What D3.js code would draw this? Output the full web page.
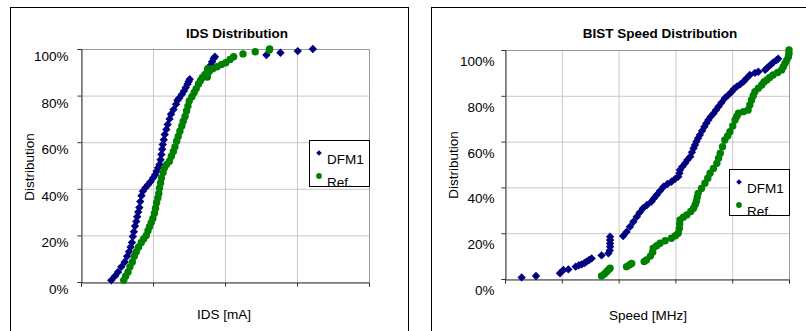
<!DOCTYPE html>
<html>
<head>
<meta charset="utf-8">
<script src="https://cdn.jsdelivr.net/npm/d3@7"></script>
<style>
  body { margin: 0; background: #fff; }
  svg { display: block; font-family: "Liberation Sans", Arial, sans-serif; }
</style>
</head>
<body>
<div id="app"></div>
<script>
// [x (grid units), distribution %]
const idsDfm1 = [
  [0.42, 0.7], [0.47, 2.5], [0.515, 4.3], [0.56, 6.5], [0.607, 8.6], [0.64, 11], [0.667, 13],
  [0.69, 15], [0.708, 17], [0.72, 19.5], [0.735, 21.6], [0.75, 24], [0.768, 26], [0.78, 28],
  [0.795, 30], [0.81, 32], [0.823, 34.5], [0.84, 37], [0.86, 39], [0.895, 40.5], [0.93, 41.7],
  [0.965, 43], [1.0, 44.6], [1.03, 46], [1.05, 47.5], [1.07, 49], [1.09, 50.4], [1.105, 52.5],
  [1.117, 54.7], [1.127, 57], [1.136, 59], [1.15, 61], [1.163, 63.3], [1.185, 65.5], [1.204, 67.6],
  [1.23, 70], [1.25, 72], [1.285, 74], [1.32, 76.3], [1.34, 78], [1.365, 79], [1.4, 80.5],
  [1.43, 82], [1.455, 83.5], [1.48, 85], [1.495, 86], [1.51, 87],
  [1.73, 88.5], [1.75, 90], [1.77, 91.5], [1.8, 93], [1.82, 94.5], [1.845, 96], [1.86, 96.7],
  [2.575, 97.4], [2.77, 98.4], [3.01, 99.1], [3.22, 100]
];
const idsRef = [
  [0.593, 0.7], [0.62, 2.5], [0.653, 4.3], [0.68, 6.5], [0.713, 8.6], [0.74, 11], [0.768, 13],
  [0.8, 15], [0.837, 17], [0.87, 18.5], [0.906, 20], [0.93, 22], [0.952, 23.7], [0.975, 25.5],
  [0.998, 27.3], [1.02, 29.5], [1.035, 31.7], [1.05, 34], [1.067, 36], [1.08, 38], [1.09, 40.3],
  [1.105, 42.5], [1.117, 44.6], [1.14, 47], [1.159, 49], [1.19, 50.5], [1.228, 51.8], [1.255, 54],
  [1.283, 56], [1.305, 58], [1.328, 60.4], [1.35, 62.5], [1.374, 64.7], [1.4, 67], [1.42, 69],
  [1.445, 71], [1.466, 73.4], [1.485, 75.5], [1.503, 77.7], [1.54, 79.5], [1.572, 81.3], [1.6, 83],
  [1.632, 85], [1.66, 86.5], [1.687, 87.8], [1.72, 89], [1.756, 90], [1.755, 88], [1.76, 91.5],
  [1.78, 90.3], [1.83, 91.5], [1.89, 92.4], [1.95, 93.3], [2.01, 94.1], [2.07, 95.5], [2.12, 96.7],
  [2.25, 97.9], [2.42, 98.8], [2.615, 99.6], [2.62, 100]
];
const bistDfm1 = [
  [0.293, 0.7], [0.546, 1.3], [0.968, 2.5], [1.027, 3.9], [1.115, 4.2], [1.244, 5.4], [1.3, 6.0],
  [1.35, 6.4], [1.4, 7.0], [1.438, 7.6], [1.48, 8.3], [1.526, 9.0], [1.7, 10.3], [1.82, 11.2],
  [1.845, 12.5], [1.85, 14.1], [1.85, 15.5], [1.85, 17], [1.85, 18.5],
  [2.08, 18.8], [2.14, 20.5], [2.2, 22.8], [2.26, 25], [2.32, 27.2], [2.37, 29], [2.43, 30.9],
  [2.5, 32.3], [2.58, 33.8], [2.62, 35.2], [2.67, 36.7], [2.73, 38.5], [2.79, 40.3], [2.86, 41.5],
  [2.93, 42.5], [2.99, 43.6], [3.05, 44.7], [3.07, 46.2], [3.08, 47.6], [3.12, 49], [3.17, 50.5],
  [3.21, 52], [3.26, 53.4], [3.29, 55.3], [3.32, 57.1], [3.345, 58.5], [3.37, 60], [3.4, 61.5],
  [3.43, 62.9], [3.47, 64.7], [3.51, 66.5], [3.545, 68], [3.58, 69.4], [3.62, 70.8], [3.67, 72.3],
  [3.715, 73.8], [3.76, 75.3], [3.81, 77], [3.87, 78.9], [3.93, 80.3], [3.99, 81.8], [4.03, 83],
  [4.08, 84], [4.14, 85], [4.2, 86.2], [4.25, 87.6], [4.31, 89.1], [4.4, 90], [4.46, 90.5],
  [4.58, 91.3], [4.62, 92.3], [4.67, 93.4], [4.72, 94.5], [4.78, 95.6], [4.81, 96.2]
];
const bistRef = [
  [1.7, 1.3], [1.75, 2.2], [1.79, 3.2], [1.82, 4.0], [1.85, 4.7], [2.14, 5.4], [2.19, 6.1],
  [2.23, 6.8], [2.45, 7.6], [2.49, 8.3], [2.56, 10], [2.6, 11.7], [2.61, 13.4], [2.67, 14.5],
  [2.73, 15.6], [2.82, 16.7], [2.93, 17.8], [3.0, 18.9], [3.05, 20], [3.07, 22], [3.075, 24],
  [3.08, 25.8], [3.14, 27], [3.2, 28], [3.27, 29.5], [3.32, 30.9], [3.35, 32.5], [3.37, 34],
  [3.385, 35.7], [3.4, 37.4], [3.46, 39.5], [3.52, 41.8], [3.57, 44], [3.61, 46.2], [3.67, 48.3],
  [3.73, 50.5], [3.76, 52.7], [3.79, 54.9], [3.83, 57.8], [3.87, 60.7], [3.92, 62.5], [3.96, 64.3],
  [4.01, 66.8], [4.05, 69.4], [4.08, 71], [4.11, 72.4], [4.2, 73.1], [4.28, 73.8], [4.31, 76],
  [4.34, 78.2], [4.37, 80], [4.4, 81.8], [4.46, 83.3], [4.52, 84.7], [4.56, 86], [4.61, 86.9],
  [4.66, 88], [4.72, 89.1], [4.8, 90.2], [4.87, 91.3], [4.9, 92.7], [4.93, 94.2], [4.96, 95.6],
  [4.99, 97.1], [5.0, 98.5], [5.0, 100]
];

const yTicks = [0, 20, 40, 60, 80, 100];
const seriesNames = ['DFM1', 'Ref.'];

const BLUE = '#000080';
const GREEN = '#008000';

const svg = d3.select('#app').append('svg')
  .attr('width', 806)
  .attr('height', 331);

function diamond(r) {
  return `M0,${-r}L${r},0L0,${r}L${-r},0Z`;
}

function drawPanel(cfg) {
  const g = svg.append('g');

  // outer chart border (runs off the bottom of the picture)
  g.append('rect')
    .attr('x', cfg.box[0] + 0.5).attr('y', 7.5)
    .attr('width', cfg.box[1] - cfg.box[0]).attr('height', 400)
    .attr('fill', '#fff').attr('stroke', '#000');

  const x = d3.scaleLinear().domain([0, cfg.xMax]).range([cfg.plot.x0, cfg.plot.x1]);
  const y = d3.scaleLinear().domain([0, 100]).range([cfg.plot.y1, cfg.plot.y0]);

  // grid
  g.append('g')
    .attr('transform', `translate(0,${cfg.plot.y1})`)
    .call(d3.axisBottom(x).ticks(cfg.xMax).tickSize(-(cfg.plot.y1 - cfg.plot.y0)).tickFormat(''))
    .call(a => a.select('.domain').remove())
    .selectAll('line').attr('stroke', '#c8c8c8');
  g.append('g')
    .attr('transform', `translate(${cfg.plot.x0},0)`)
    .call(d3.axisLeft(y).tickValues(yTicks).tickSize(-(cfg.plot.x1 - cfg.plot.x0)).tickFormat(''))
    .call(a => a.select('.domain').remove())
    .selectAll('line').attr('stroke', '#c8c8c8');

  // frame
  g.append('path')
    .attr('d', `M${cfg.plot.x0},${cfg.plot.y0 + 0.5}H${cfg.plot.x1 + 0.5}V${cfg.plot.y1}`)
    .attr('fill', 'none').attr('stroke', '#9a9a9a');

  // axes
  const yAxis = g.append('g')
    .attr('transform', `translate(${cfg.plot.x0 + 0.5},0)`)
    .call(d3.axisLeft(y).tickValues(yTicks).tickSize(4).tickPadding(0).tickFormat(d => d + '%'));
  yAxis.select('.domain').attr('stroke', '#333');
  yAxis.selectAll('line').attr('stroke', '#333');
  yAxis.selectAll('text')
    .attr('x', cfg.labelRight - cfg.plot.x0)
    .attr('dy', null)
    .attr('y', cfg.labelDy)
    .attr('font-size', 13.5)
    .attr('font-family', '"Liberation Sans", Arial, sans-serif')
    .attr('fill', '#000');

  const xAxis = g.append('g')
    .attr('transform', `translate(0,${cfg.plot.y1 + 0.5})`)
    .call(d3.axisBottom(x).ticks(cfg.xMax).tickSize(4).tickFormat(''));
  xAxis.select('.domain').attr('stroke', '#333');
  xAxis.selectAll('line').attr('stroke', '#333');

  // series
  g.append('g').selectAll('path')
    .data(cfg.dfm1)
    .join('path')
    .attr('d', diamond(4.2))
    .attr('fill', BLUE)
    .attr('transform', d => `translate(${x(d[0])},${y(d[1])})`);
  g.append('g').selectAll('circle')
    .data(cfg.ref)
    .join('circle')
    .attr('r', 3.7)
    .attr('fill', GREEN)
    .attr('cx', d => x(d[0]))
    .attr('cy', d => y(d[1]));

  // titles
  g.append('text')
    .attr('x', cfg.title[0]).attr('y', cfg.title[1])
    .attr('text-anchor', 'middle')
    .attr('font-size', 13.5).attr('font-weight', 'bold')
    .text(cfg.titleText);
  g.append('text')
    .attr('transform', `translate(${cfg.yLabel[0]},${cfg.yLabel[1]}) rotate(-90)`)
    .attr('text-anchor', 'middle')
    .attr('font-size', 13.5)
    .text('Distribution');
  g.append('text')
    .attr('x', cfg.xLabel[0]).attr('y', cfg.xLabel[1])
    .attr('text-anchor', 'middle')
    .attr('font-size', 13.5)
    .text(cfg.xLabelText);

  // legend, text clipped by the box like in the original
  const L = cfg.legend;
  const clipId = 'clip-' + cfg.id;
  g.append('clipPath').attr('id', clipId)
    .append('rect').attr('x', L.x0).attr('y', L.y0).attr('width', L.x1 - L.x0).attr('height', L.y1 - L.y0);
  g.append('rect')
    .attr('x', L.x0 + 0.5).attr('y', L.y0 + 0.5)
    .attr('width', L.x1 - L.x0).attr('height', L.y1 - L.y0)
    .attr('fill', '#fff').attr('stroke', '#000');
  const lg = g.append('g').attr('clip-path', `url(#${clipId})`);
  lg.append('path')
    .attr('d', diamond(2.8))
    .attr('fill', BLUE)
    .attr('transform', `translate(${L.x0 + 10},${L.y0 + 13})`);
  lg.append('circle')
    .attr('r', 2.9).attr('fill', GREEN)
    .attr('cx', L.x0 + 10).attr('cy', L.y0 + 36);
  lg.selectAll('text')
    .data(seriesNames)
    .join('text')
    .attr('x', L.x0 + 18)
    .attr('y', (d, i) => L.y0 + 24 + i * 23)
    .attr('font-size', 13.5)
    .text(d => d);
}

drawPanel({
  id: 'ids',
  box: [10, 408],
  plot: { x0: 81, x1: 369, y0: 49, y1: 282 },
  xMax: 4,
  dfm1: idsDfm1,
  ref: idsRef,
  labelRight: 68,
  labelDy: 11.5,
  title: [237, 38],
  titleText: 'IDS Distribution',
  yLabel: [34, 167],
  xLabel: [224, 319],
  xLabelText: 'IDS [mA]',
  legend: { x0: 309, x1: 369, y0: 140, y1: 186 }
});

drawPanel({
  id: 'bist',
  box: [431, 831],
  plot: { x0: 505, x1: 789, y0: 50, y1: 279 },
  xMax: 5,
  dfm1: bistDfm1,
  ref: bistRef,
  labelRight: 494,
  labelDy: 15.5,
  title: [660, 38],
  titleText: 'BIST Speed Distribution',
  yLabel: [458, 165],
  xLabel: [648, 320],
  xLabelText: 'Speed [MHz]',
  legend: { x0: 729, x1: 789, y0: 169, y1: 215 }
});
</script>
</body>
</html>
